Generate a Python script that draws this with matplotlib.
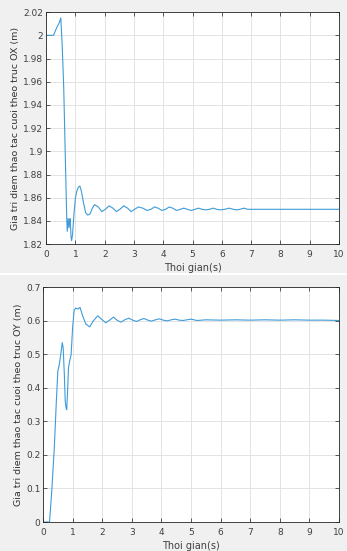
import numpy as np
import matplotlib
matplotlib.use("Agg")
import matplotlib.pyplot as plt
from matplotlib.patches import Rectangle

# X position of end effector over time
t_x = [0, 0.25, 0.35, 0.45, 0.5, 0.55, 0.6, 0.65, 0.7, 0.72, 0.75, 0.78, 0.8, 0.82,
       0.85, 0.87, 0.9, 0.95, 1.0, 1.05, 1.1, 1.15, 1.2, 1.28, 1.35, 1.42, 1.5, 1.58,
       1.65, 1.78, 1.9, 2.02, 2.15, 2.28, 2.4, 2.52, 2.65, 2.78, 2.9, 3.02, 3.15,
       3.3, 3.45, 3.58, 3.7, 3.82, 3.95, 4.08, 4.2, 4.32, 4.45, 4.58, 4.7, 4.82,
       4.95, 5.08, 5.2, 5.32, 5.45, 5.58, 5.7, 5.82, 5.95, 6.1, 6.25, 6.38, 6.5,
       6.62, 6.75, 6.88, 7.0, 10.0]
x_pos = [2.0, 2.0, 2.006, 2.011, 2.015, 1.99, 1.955, 1.90, 1.845, 1.831, 1.842, 1.834,
         1.840, 1.842, 1.826, 1.823, 1.828, 1.846, 1.860, 1.866, 1.869, 1.870, 1.866,
         1.855, 1.847, 1.845, 1.846, 1.851, 1.854, 1.852, 1.848, 1.850, 1.853, 1.851,
         1.848, 1.850, 1.853, 1.851, 1.848, 1.850, 1.852, 1.851, 1.849, 1.850, 1.852,
         1.851, 1.849, 1.850, 1.852, 1.851, 1.849, 1.850, 1.851, 1.850, 1.849, 1.850,
         1.851, 1.850, 1.8495, 1.850, 1.851, 1.850, 1.8495, 1.850, 1.851, 1.850,
         1.8495, 1.850, 1.851, 1.850, 1.850, 1.850]

# Y position of end effector over time
t_y = [0, 0.22, 0.3, 0.38, 0.45, 0.5, 0.55, 0.6, 0.65, 0.68, 0.72, 0.75, 0.78, 0.8,
       0.83, 0.86, 0.9, 0.95, 1.0, 1.05, 1.1, 1.18, 1.25, 1.35, 1.45, 1.58, 1.7, 1.85,
       2.0, 2.12, 2.25, 2.38, 2.5, 2.63, 2.76, 2.9, 3.03, 3.16, 3.28, 3.41, 3.54,
       3.66, 3.8, 3.93, 4.06, 4.2, 4.33, 4.46, 4.6, 4.73, 4.86, 5.0, 5.2, 5.5, 6.0,
       6.5, 7.0, 7.5, 8.0, 8.5, 9.0, 9.5, 10.0]
y_pos = [0.0, 0.0, 0.1, 0.22, 0.36, 0.45, 0.47, 0.50, 0.535, 0.52, 0.44, 0.36, 0.34,
         0.335, 0.39, 0.46, 0.48, 0.50, 0.58, 0.63, 0.638, 0.635, 0.64, 0.612, 0.59,
         0.582, 0.60, 0.615, 0.603, 0.594, 0.602, 0.611, 0.602, 0.596, 0.603, 0.608,
         0.602, 0.598, 0.603, 0.607, 0.602, 0.599, 0.603, 0.606, 0.602, 0.600, 0.603,
         0.605, 0.602, 0.601, 0.603, 0.605, 0.601, 0.603, 0.602, 0.603, 0.602, 0.603,
         0.602, 0.603, 0.602, 0.602, 0.601]

line_color = '#3e9bd8'
tick_color = '#404040'

fig = plt.figure(figsize=(3.47, 5.51), dpi=100)
fig.patch.set_facecolor('#f0f0f0')
# thin white seam between the two stacked screenshots
fig.patches.append(Rectangle((0, 0.5005), 1, 0.004, transform=fig.transFigure,
                             facecolor='white', edgecolor='none'))

def style_axes(ax, ylabel):
    ax.set_facecolor('white')
    ax.grid(True, color='#e3e3e3', linewidth=0.7)
    ax.set_axisbelow(True)
    ax.tick_params(direction='in', length=3, width=0.6, labelsize=6.5,
                   colors=tick_color, top=True, right=True, pad=2)
    ax.tick_params(axis='x', pad=4)
    for s in ax.spines.values():
        s.set_color('#262626')
        s.set_linewidth(0.6)
    ax.set_xlim(0, 10)
    ax.set_xticks(range(0, 11))
    ax.set_xlabel("Thoi gian(s)", fontsize=7, color=tick_color, labelpad=3)
    ax.set_ylabel(ylabel, fontsize=6.8, color='#333333', labelpad=2)

ax1 = fig.add_axes([0.133, 0.557, 0.844, 0.421])
ax1.plot(t_x, x_pos, color=line_color, linewidth=0.8)
ax1.set_ylim(1.82, 2.02)
ax1.set_yticks(np.arange(1.82, 2.021, 0.02))
ax1.set_yticklabels(['1.82', '1.84', '1.86', '1.88', '1.9', '1.92', '1.94',
                     '1.96', '1.98', '2', '2.02'])
style_axes(ax1, "Gia tri diem thao tac cuoi theo truc OX (m)")

ax2 = fig.add_axes([0.124, 0.0526, 0.853, 0.426])
ax2.plot(t_y, y_pos, color=line_color, linewidth=0.8)
ax2.set_ylim(0, 0.7)
ax2.set_yticks(np.arange(0, 0.71, 0.1))
ax2.set_yticklabels(['0', '0.1', '0.2', '0.3', '0.4', '0.5', '0.6', '0.7'])
style_axes(ax2, "Gia tri diem thao tac cuoi theo truc OY (m)")

fig.savefig("out.png", dpi=100, facecolor=fig.get_facecolor())
